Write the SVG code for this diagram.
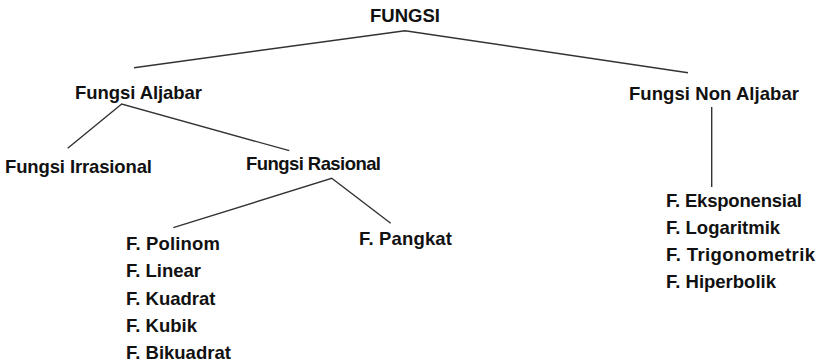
<svg xmlns="http://www.w3.org/2000/svg" width="821" height="364" viewBox="0 0 821 364">
<style>
text{font-family:"Liberation Sans",Arial,sans-serif;font-weight:bold;font-size:18.5px;fill:#111}
.c line,.c polyline{stroke:#333;stroke-width:1.4;fill:none}
</style>
<rect width="821" height="364" fill="#fff"/>
<g class="c" id="connectors">
<polyline points="134,67.7 405,30.7 688,72.7"/>
<polyline points="67.7,148.3 121.7,104 289.3,150.7"/>
<polyline points="173.3,227.7 331.7,178.3 390.7,223.3"/>
<line x1="711.7" y1="107" x2="711.7" y2="187"/>
</g>
<g id="n-fungsi"><text x="370" y="22">FUNGSI</text></g>
<g id="n-aljabar"><text x="75" y="99" textLength="127">Fungsi Aljabar</text></g>
<g id="n-nonaljabar"><text x="629" y="100" textLength="170">Fungsi Non Aljabar</text></g>
<g id="n-irrasional"><text x="5" y="173" textLength="147">Fungsi Irrasional</text></g>
<g id="n-rasional"><text x="246" y="170" textLength="135">Fungsi Rasional</text></g>
<g id="n-pangkat"><text x="359" y="245" textLength="93">F. Pangkat</text></g>
<g id="n-polinom">
<text x="126" y="250" textLength="94">F. Polinom</text>
<text x="126" y="277.3">F. Linear</text>
<text x="126" y="304.5">F. Kuadrat</text>
<text x="126" y="331.7">F. Kubik</text>
<text x="126" y="359">F. Bikuadrat</text>
</g>
<g id="n-nonaljabar-list">
<text x="666" y="206.7" textLength="136">F. Eksponensial</text>
<text x="666" y="234">F. Logaritmik</text>
<text x="666" y="261" textLength="149">F. Trigonometrik</text>
<text x="666" y="288.3">F. Hiperbolik</text>
</g>
</svg>
